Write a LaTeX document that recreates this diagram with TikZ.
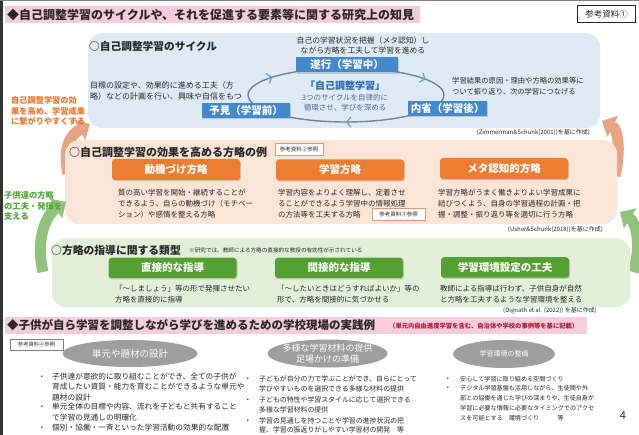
\documentclass[tikz,border=0pt]{standalone}
\usepackage{fontspec}
\setmainfont{Noto Sans CJK JP}
\usetikzlibrary{arrows.meta,shadows,decorations.markings,shapes.geometric}
\definecolor{tpink}{RGB}{247,204,220}
\definecolor{pblue}{RGB}{222,235,247}
\definecolor{ppeach}{RGB}{251,229,214}
\definecolor{pgreen}{RGB}{226,240,217}
\definecolor{bblue}{RGB}{66,137,206}
\definecolor{borange}{RGB}{237,125,49}
\definecolor{bgreen}{RGB}{84,160,48}
\definecolor{egray}{RGB}{158,158,158}
\definecolor{torange}{RGB}{237,118,45}
\definecolor{tgreen}{RGB}{80,168,52}
\definecolor{aorange}{RGB}{232,165,130}
\definecolor{agreen}{RGB}{145,195,125}
\definecolor{cycgray}{RGB}{115,130,148}
\definecolor{cycarrow}{RGB}{80,170,225}
\definecolor{titblue}{RGB}{45,105,185}
\definecolor{subblue}{RGB}{85,105,145}
\definecolor{refor}{RGB}{225,150,110}
\definecolor{notered}{RGB}{175,30,45}
\definecolor{txt}{RGB}{40,40,40}
\newcommand{\fsz}[2]{\fontsize{#1}{#2}\selectfont}
\begin{document}
\begin{tikzpicture}[x=1pt,y=-1pt,
  every node/.style={inner sep=0,text=txt},
  panelbox/.style={rounded corners=14pt,inner sep=0},
  head/.style={anchor=west},
  cbox/.style={fill=bblue,text=white,font=\bfseries\fsz{10.5}{12},minimum height=15pt,
    drop shadow={opacity=0.35,shadow xshift=1pt,shadow yshift=-1.2pt}},
  obox/.style={fill=borange,text=white,font=\bfseries\fsz{10.5}{12},minimum width=128pt,
    minimum height=21pt,rounded corners=3pt,
    drop shadow={opacity=0.35,shadow xshift=1pt,shadow yshift=-1.2pt}},
  gbox/.style={fill=bgreen,text=white,font=\bfseries\fsz{10.5}{12},minimum width=128pt,
    minimum height=20.5pt,rounded corners=3pt,
    drop shadow={opacity=0.35,shadow xshift=1pt,shadow yshift=-1.2pt}},
  desc/.style={font=\fsz{7.5}{11},align=left,anchor=west},
  cite/.style={font=\fsz{6}{7},anchor=east},
  refbox/.style={draw=refor,line width=0.6pt,fill=white,font=\fsz{5.5}{6},
    minimum width=48pt,minimum height=12pt},
  ell/.style={ellipse,fill=egray,inner sep=0},
  elltext/.style={text=white,align=center},
  bigarrow/.style={line width=11pt,draw=#1,-{Triangle[length=12pt,width=23pt]}},
  bul/.style={font=\fsz{6}{7}},
  cyc arrow/.style={cycarrow,line width=1.3pt}
]
\useasboundingbox (0,0) rectangle (639,435);
\fill[white] (0,0) rectangle (639,435);
\draw[line width=3pt,black!80] (1.5,0) -- (1.5,435);
\draw[line width=1pt,black!50] (0,0.5) -- (639,0.5);

% ---------- title 1
\node[fill=tpink,minimum width=415pt,minimum height=17pt,anchor=north west] (t1bar) at (5,6) {};
\node[font=\bfseries\fsz{12}{14},anchor=west] (t1) at (7,14.5) {◆自己調整学習のサイクルや、それを促進する要素等に関する研究上の知見};
\node[draw=black!85,line width=1pt,minimum width=58pt,minimum height=17pt,font=\fsz{8.5}{10}] (ref1) at (606.5,14.5) {参考資料①};

% ---------- blue panel
\node[panelbox,fill=pblue,minimum width=512pt,minimum height=95pt,anchor=north west] (bp) at (88,33) {};

% orange arrows
\coordinate (oaL1) at (68,174);
\coordinate (oaL2) at (90,124);
\draw[bigarrow=aorange] (oaL1) .. controls (62,145) and (72,134) .. (oaL2);
\coordinate (oaR1) at (615,176);
\coordinate (oaR2) at (602,121);
\draw[bigarrow=aorange] (oaR1) .. controls (621,150) and (618,129) .. (oaR2);

% ---------- peach panel
\node[panelbox,fill=ppeach,minimum width=552pt,minimum height=84pt,anchor=north west] (pp) at (65,140) {};

% green arrows
\coordinate (gaL1) at (43,272);
\coordinate (gaL2) at (66,202);
\draw[bigarrow=agreen] (gaL1) .. controls (35,238) and (47,214) .. (gaL2);
\coordinate (gaR1) at (633,272);
\coordinate (gaR2) at (620,212);
\draw[bigarrow=agreen] (gaR1) .. controls (642,245) and (636,222) .. (gaR2);

% ---------- green panel
\node[panelbox,fill=pgreen,minimum width=578pt,minimum height=69pt,anchor=north west] (gp) at (52,238) {};

% ---------- section 1
\node[head,font=\bfseries\fsz{10.7}{12}] (h1) at (89,46) {○自己調整学習のサイクル};
\draw[cycgray,line width=1.4pt,postaction={decorate},decoration={markings,
  mark=at position 0.25 with {\arrow[cyc arrow]{Straight Barb[length=4pt,width=10pt]}},
  mark=at position 0.575 with {\arrow[cyc arrow]{Straight Barb[length=4pt,width=10pt]}},
  mark=at position 0.94 with {\arrow[cyc arrow]{Straight Barb[length=4pt,width=10pt]}}}]
  (346,95) ellipse [x radius=98,y radius=27];
\node[cbox,minimum width=102pt] (suiko) at (347,65) {遂行（学習中）};
\node[cbox,minimum width=88pt] (yoken) at (246,110.5) {予見（学習前）};
\node[cbox,minimum width=79pt] (naisei) at (447.5,108.5) {内省（学習後）};
\node[font=\fsz{7.8}{10},align=center] (c1top) at (363,45) {自己の学習状況を把握（メタ認知）し\\ながら方略を工夫して学習を進める};
\node[font=\bfseries\fsz{10}{12},text=titblue] (cyc) at (345,86) {「自己調整学習」};
\node[font=\fsz{7.5}{10},align=center,text=subblue] (cycsub) at (345,102.5) {3つのサイクルを自律的に\\循環させ、学びを深める};
\node[desc,font=\fsz{8}{11}] (c1left) at (90,90.7) {目標の設定や、効果的に進める工夫（方\\略）などの計画を行い、興味や自信をもつ};
\node[desc,font=\fsz{7.3}{11.5}] (c1right) at (452,86) {学習結果の原因・理由や方略の効果等に\\ついて振り返り、次の学習につなげる};
\node[cite] (cite1) at (590,133) {(Zimmerman\&Schunk(2001))を基に作成)};

% ---------- section 2
\node[head,font=\bfseries\fsz{11}{13}] (h2) at (69,152) {○自己調整学習の効果を高める方略の例};
\node[refbox] (ref2) at (299,149) {参考資料②参照};
\node[obox] (s1) at (176,169.5) {動機づけ方略};
\node[obox] (s2) at (340,170) {学習方略};
\node[obox] (s3) at (504,168.5) {メタ認知的方略};
\node[desc] (d1) at (118,204) {質の高い学習を開始・継続することが\\できるよう、自らの動機づけ（モチベー\\ション）や感情を整える方略};
\node[desc] (d2) at (278,204) {学習内容をよりよく理解し、定着させ\\ることができるよう学習中の情報処理\\の方法等を工夫する方略};
\node[desc] (d3) at (438,204) {学習方略がうまく働きよりよい学習成果に\\結びつくよう、自身の学習過程の計画・把\\握・調整・振り返り等を適切に行う方略};
\node[refbox,minimum width=53pt] (ref3) at (398.5,214) {参考資料③参照};
\node[cite] (cite2) at (603,230) {(Usher\&Schunk(2018))を基に作成)};

% ---------- section 3
\node[head,font=\bfseries\fsz{10.8}{12}] (h3) at (51,250) {○方略の指導に関する類型};
\node[font=\fsz{5.6}{7},anchor=west] (note3) at (189,250) {※研究では、教師による方略の直接的な教授の有効性が示されている};
\node[gbox] (g1) at (172.5,268) {直接的な指導};
\node[gbox] (g2) at (339,268) {間接的な指導};
\node[gbox] (g3) at (505,267.5) {学習環境設定の工夫};
\node[desc] (e1) at (115,294) {「～しましょう」等の形で発揮させたい\\方略を直接的に指導};
\node[desc] (e2) at (277,294) {「～したいときはどうすればよいか」等の\\形で、方略を間接的に気づかせる};
\node[desc] (e3) at (440,294) {教師による指導は行わず、子供自身が自然\\と方略を工夫するような学習環境を整える};
\node[cite] (cite3) at (597,310.5) {(Dignath et al. (2022)) を基に作成)};

% ---------- left labels
\node[font=\bfseries\fsz{8.2}{10.5},text=torange,align=left,anchor=west] (lt1) at (11,111) {自己調整学習の効\\果を高め、学習成果\\に繋がりやすくする};
\node[font=\bfseries\fsz{8.3}{10.5},text=tgreen,align=left,anchor=west] (lt2) at (4,206) {子供達の方略\\の工夫・発揮を\\支える};

% ---------- title 2
\node[fill=tpink,minimum width=582pt,minimum height=17pt,anchor=north west] (t2bar) at (5,317) {};
\node[font=\bfseries\fsz{11.5}{13},anchor=west] (t2) at (7,325.5) {◆子供が自ら学習を調整しながら学びを進めるための学校現場の実践例};
\node[font=\bfseries\fsz{6.3}{8},text=notered,anchor=west] (t2n) at (389,326.5) {（単元内自由進度学習を含む、自治体や学校の事例等を基に記載）};
\node[draw=black!50,line width=0.5pt,fill=white,minimum width=53pt,minimum height=11pt,font=\fsz{5.3}{6}] (ref4) at (36.5,344.5) {参考資料④参照};

% ellipses
\node[ell,minimum width=135pt,minimum height=27pt] (el1) at (130,353.5) {};
\node[elltext,font=\fsz{9.5}{11}] (el1t) at (el1.center) {単元や題材の設計};
\node[ell,minimum width=120pt,minimum height=28pt] (el2) at (327.5,353.5) {};
\node[elltext,font=\fsz{9}{11}] (el2t) at (el2.center) {多様な学習材料の提供\\足場かけの準備};
\node[ell,minimum width=102pt,minimum height=28pt] (el3) at (504,354) {};
\node[elltext,font=\fsz{7}{9}] (el3t) at (el3.center) {学習環境の整備};

% column 1
\node[bul] (b11) at (42,377) {•};
\node[bul] (b12) at (42,407) {•};
\node[bul] (b13) at (42,428) {•};
\node[desc,font=\fsz{7.7}{10.2}] (i11) at (52,387) {子供達が意欲的に取り組むことができ、全ての子供が\\育成したい資質・能力を育むことができるような単元や\\題材の設計};
\node[desc,font=\fsz{7.7}{10.2}] (i12) at (52,412) {単元全体の目標や内容、流れを子どもと共有すること\\で学習の見通しの明確化};
\node[desc,font=\fsz{7.7}{10.2}] (i13) at (52,428) {個別・協働・一斉といった学習活動の効果的な配置};

% column 2
\node[bul] (b21) at (248,379) {•};
\node[bul] (b22) at (248,400) {•};
\node[bul] (b23) at (248,421) {•};
\node[desc,font=\fsz{6.9}{10}] (i21) at (259,384) {子どもが自分の力で学ぶことができ、自らにとって\\学びやすいものを選択できる多様な材料の提供};
\node[desc,font=\fsz{6.9}{10}] (i22) at (259,405) {子どもの特性や学習スタイルに応じて選択できる\\多様な学習材料の提供};
\node[desc,font=\fsz{6.9}{9.5}] (i23) at (259,425.5) {学習の見通しを持つことや学習の進捗状況の把\\握、学習の振返りがしやすい学習材の開発　等};

% column 3
\node[bul] (b31) at (448,379) {•};
\node[bul] (b32) at (448,388) {•};
\node[desc,font=\fsz{6.1}{10}] (i31) at (460,379) {安心して学習に取り組める空間づくり};
\node[desc,font=\fsz{6.1}{10}] (i32) at (460,403) {デジタル学習基盤も活用しながら、生徒間や外\\部との協働を通じた学びの深まりや、生徒自身が\\学習に必要な情報に必要なタイミングでのアクセ\\スを可能とする　環境づくり　　　等};

\node[font=\fsz{11}{12}] (pg) at (623,416) {4};
\end{tikzpicture}
\end{document}
